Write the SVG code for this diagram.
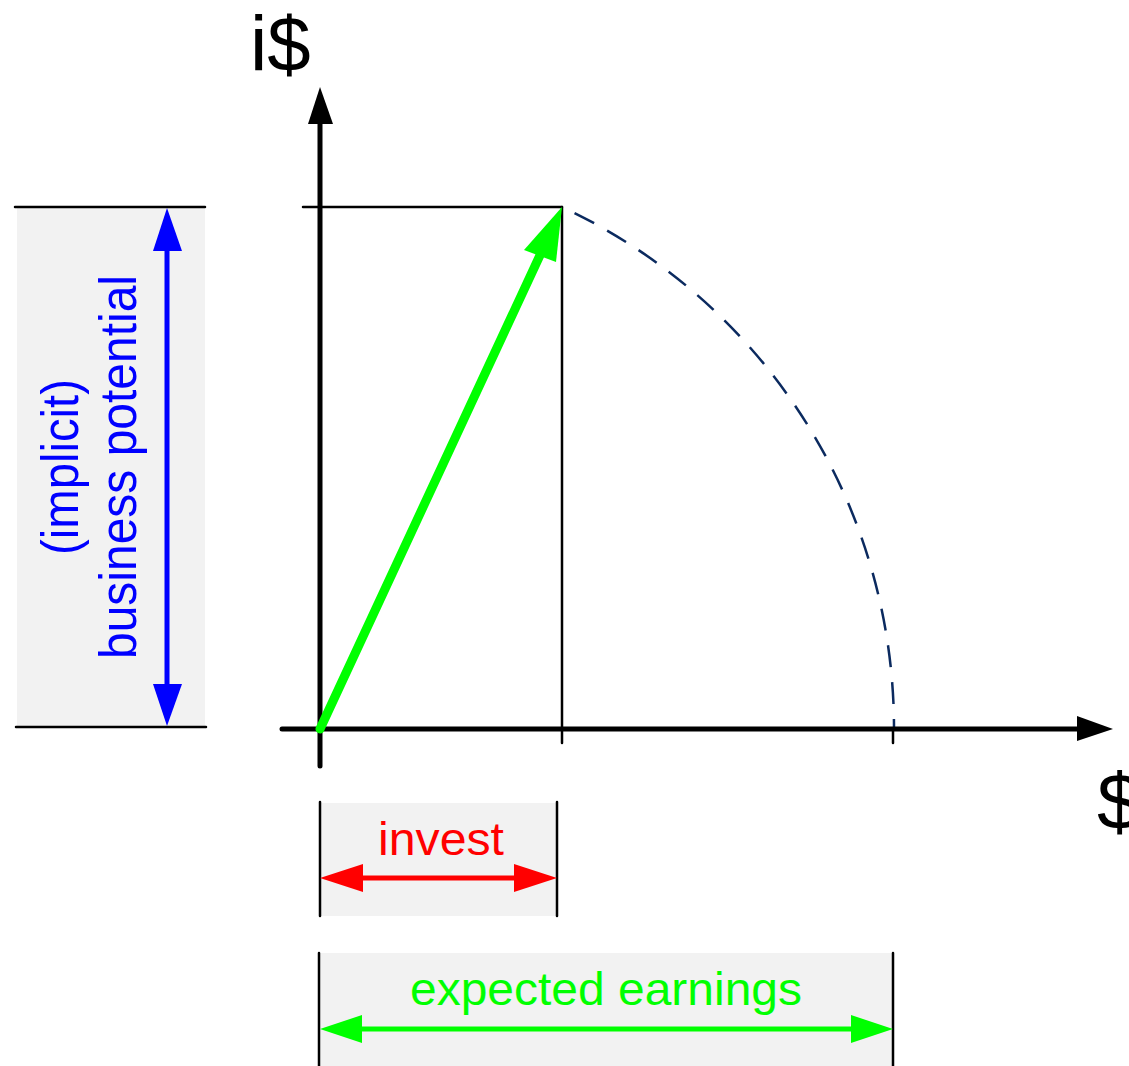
<svg xmlns="http://www.w3.org/2000/svg" width="1129" height="1066" viewBox="0 0 1129 1066">
<style>
.box{fill:#f2f2f2;stroke:none}
.thin{stroke:#000;stroke-width:2.5;fill:none;stroke-linecap:round}
.axis{stroke:#000;stroke-width:5;fill:none;stroke-linecap:round}
.lbl{font-family:"Liberation Sans",Arial,sans-serif}
</style>
<rect width="1129" height="1066" fill="#fff"/>
<g id="bp-box">
<rect class="box" x="17" y="207" width="188" height="520"/>
<line class="thin" x1="15" y1="207" x2="205" y2="207"/>
<line class="thin" x1="16" y1="727" x2="206" y2="727"/>
<line x1="167" y1="245" x2="167" y2="690" stroke="#0000ff" stroke-width="5"/>
<polygon points="167,208 153,251 182,251" fill="#0000ff"/>
<polygon points="167,726 153,684 182,684" fill="#0000ff"/>
<text class="lbl" transform="translate(78,467) rotate(-90)" text-anchor="middle" font-size="52" fill="#0000ff" textLength="176" lengthAdjust="spacingAndGlyphs">(implicit)</text>
<text class="lbl" transform="translate(136,467) rotate(-90)" text-anchor="middle" font-size="52" fill="#0000ff" textLength="384" lengthAdjust="spacingAndGlyphs">business potential</text>
</g>
<g id="invest-box">
<rect class="box" x="320" y="803" width="237" height="113"/>
<line class="thin" x1="320" y1="802" x2="320" y2="916"/>
<line class="thin" x1="557" y1="802" x2="557" y2="916"/>
<line x1="355" y1="878" x2="522" y2="878" stroke="#ff0000" stroke-width="5"/>
<polygon points="320,878 363,864 363,892" fill="#ff0000"/>
<polygon points="557,878 514,864 514,892" fill="#ff0000"/>
<text class="lbl" x="441" y="855" text-anchor="middle" font-size="46" fill="#ff0000" textLength="126" lengthAdjust="spacingAndGlyphs">invest</text>
</g>
<g id="earnings-box">
<rect class="box" x="320" y="953" width="573" height="113"/>
<line class="thin" x1="319" y1="953" x2="319" y2="1066"/>
<line class="thin" x1="893" y1="953" x2="893" y2="1066"/>
<line x1="355" y1="1029" x2="858" y2="1029" stroke="#00ff00" stroke-width="5"/>
<polygon points="320,1029 362,1015 362,1043" fill="#00ff00"/>
<polygon points="893,1029 851,1015 851,1043" fill="#00ff00"/>
<text class="lbl" x="606" y="1005" text-anchor="middle" font-size="47" fill="#00ff00" textLength="392" lengthAdjust="spacingAndGlyphs">expected earnings</text>
</g>
<g id="connectors">
<line class="thin" x1="303" y1="207" x2="562" y2="207"/>
<line class="thin" x1="562" y1="207" x2="562" y2="743"/>
<line class="thin" x1="893" y1="729" x2="893" y2="743"/>
<path d="M562 207 A575 575 0 0 1 894 729" fill="none" stroke="#0b2a5f" stroke-width="2.5" stroke-dasharray="22 15" stroke-dashoffset="23"/>
<line class="axis" x1="320" y1="766" x2="320" y2="118"/>
<polygon points="320,87 308,124 333,124" fill="#000"/>
<line class="axis" x1="282" y1="729" x2="1082" y2="729"/>
<polygon points="1113,729 1077,716 1077,741" fill="#000"/>
<line x1="320" y1="729" x2="541" y2="253" stroke="#00ff00" stroke-width="9" stroke-linecap="round"/>
<polygon points="562,207 524,250 556,262" fill="#00ff00"/>
</g>
<g id="labels">
<text class="lbl" x="250" y="71" font-size="78" fill="#000">i$</text>
<text class="lbl" x="1097" y="829" font-size="80" fill="#000">$</text>
</g>
</svg>
